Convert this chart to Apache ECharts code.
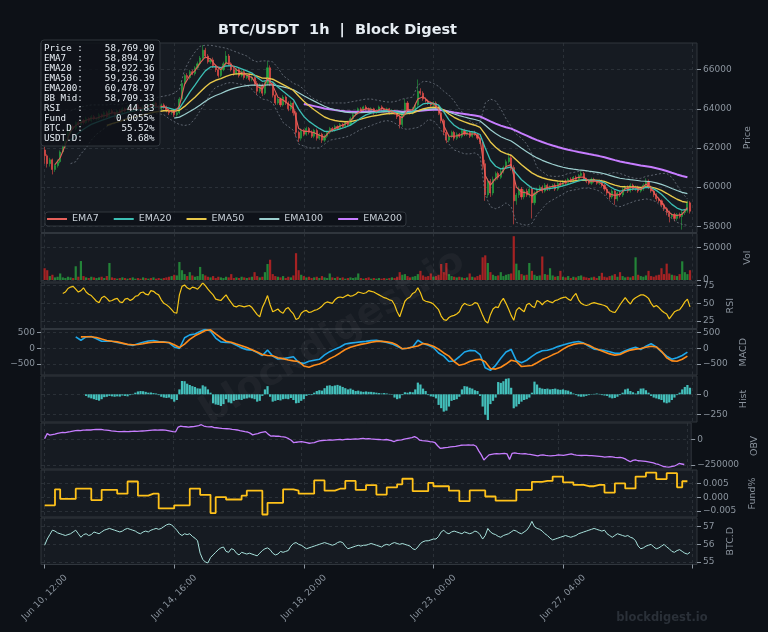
<!DOCTYPE html>
<html><head><meta charset="utf-8">
<script src="https://cdn.jsdelivr.net/npm/echarts@6/dist/echarts.min.js"></script>
<style>html,body{margin:0;padding:0;background:#0d1117;}#c{width:768px;height:632px;}</style>
</head><body><div id="c"></div>
<script>
// ---------------- DATA ----------------
// x axis: hours since Jun 10, 12:00 (2h candles)
const xTickHours = [0,100,200,300,400];
const xTickLabels = ['Jun 10, 12:00','Jun 14, 16:00','Jun 18, 20:00','Jun 23, 00:00','Jun 27, 04:00'];
const xGridHours = [0,100,200,300,400,500];

const priceTicks = [58000,60000,62000,64000,66000];
const volTicks = [0,50000];
const rsiTicks = [25,50,75];
const macdTicks = [-500,0,500];
const histTicks = [-250,0];
const obvTicks = [-250000,0];
const fundTicks = [-0.005,0,0.005];
const btcdTicks = [55,56,57];

const firstOpen = 61900;
// close every 2 hours
const close = [61600,61200,61400,60900,61100,61300,61800,62100,62400,62800,
63100,63000,63300,63200,63400,63300,63500,63400,63600,63500,
63500,63700,63600,63800,63600,63900,63800,63600,63900,63800,
64000,63900,64100,63900,64000,64200,64000,63900,64100,64000,
64200,64100,64300,64100,64000,64200,64100,63900,63800,63900,
63700,63800,64500,65300,65700,65600,65900,65800,66100,66300,
66600,67000,66700,66400,66500,66200,66000,65700,66000,66300,
66700,66300,66000,65800,66000,65700,65900,65600,65700,65500,
65600,65300,64900,65200,64800,65300,66100,65300,64700,64300,
64500,64200,64600,64300,64000,64300,63800,62800,62500,62900,
62700,63000,62800,62600,62900,62500,62700,62400,62600,62800,
63000,62900,63100,63000,63200,63100,63300,63200,63500,63700,
63800,64000,63900,64100,64000,63900,64000,63800,63900,64100,
64000,63900,64000,63800,63900,63800,63600,63200,63700,64300,
63900,63800,64000,64200,64900,64800,64500,64400,64300,64200,
64300,64100,63800,63400,62800,62400,62600,62800,62500,62700,
62600,62900,62700,62800,62600,62800,62700,62500,62300,61200,
59600,60300,59700,60400,60700,60500,60800,61000,61300,61500,
61000,59300,59600,59900,59500,59800,59600,59900,59200,59700,
59900,60000,59800,60100,59900,60000,60100,59900,60200,60100,
60300,60200,60400,60300,60500,60400,60600,60700,60400,60300,
60200,60400,60300,60200,60300,60100,59900,59700,59500,59800,
59400,59700,59600,59900,60000,59800,60100,59900,60000,59800,
59900,60100,60300,60000,59800,59600,59400,59300,59100,58900,
58700,58500,58600,58400,58600,58500,58700,58800,59200,58770];
// upper / lower wick length, in units of $10
const wickUp = [15,8,10,6,9,12,8,10,7,9, 8,10,7,9,6,8,10,7,9,8, 7,9,6,8,10,7,9,6,8,7, 9,7,8,6,10,7,9,8,6,9,
8,7,10,6,9,7,8,6,9,7, 8,10,10,15,8,12,9,10,8,12, 10,25,12,10,9,12,8,10,9,11, 25,10,8,12,9,10,8,9,7,10,
9,8,12,10,9,14,35,12,10,8, 9,7,10,8,9,12,8,10,9,10, 8,9,7,10,8,9,7,8,9,7, 8,7,9,6,8,7,9,8,10,8,
9,7,8,6,9,7,8,6,9,7, 8,6,7,5,8,6,7,9,10,20, 10,8,9,12,60,15,10,9,8,7, 9,8,7,10,9,12,10,9,8,10,
7,9,8,7,9,6,8,7,9,10, 20,15,12,14,10,9,12,10,11,25, 15,12,10,14,11,9,12,10,14,9, 8,10,9,11,8,9,7,10,8,9,
7,9,8,10,7,9,8,15,9,8, 7,9,8,7,9,8,7,9,8,10, 9,8,10,9,8,9,10,8,9,7, 8,10,15,9,8,7,9,8,7,9, 8,10,7,9,8,10,12,9,12,8];
const wickDn = [40,20,15,25,12,10,8,7,9,8, 10,8,9,7,8,10,7,9,8,7, 9,7,8,10,7,9,8,10,7,8, 7,9,6,8,7,9,8,6,9,7,
8,9,7,10,8,7,9,8,12,10, 12,10,8,9,12,10,9,8,10,9, 8,10,12,9,10,11,12,10,9,8, 10,12,9,11,8,10,9,11,8,10,
9,12,20,10,15,9,10,14,12,10, 9,11,8,10,12,9,15,20,20,12, 10,8,11,9,10,12,9,14,10,8, 9,8,7,9,8,7,9,8,7,9,
8,9,7,8,9,7,8,10,8,7, 9,8,7,9,8,9,12,20,12,9, 10,9,8,9,10,11,9,8,10,9, 8,10,12,14,15,15,10,9,12,9,
8,10,9,8,9,7,8,9,10,30, 30,15,20,12,10,12,9,10,8,9, 15,120,20,15,14,12,11,13,80,12, 10,9,11,8,10,9,8,10,9,8,
7,9,8,7,9,8,7,8,9,10, 8,9,7,8,9,10,11,12,14,10, 30,12,11,10,9,10,8,9,10,9, 8,9,8,10,9,11,12,10,13,12, 14,30,12,15,11,10,67,12,10,12];
const volume = [18000,15000,6000,8000,4000,5000,10000,4000,3000,5000, 4000,3000,21000,5000,29000,6000,4000,3000,5000,4000,
3000,4000,5000,3000,6000,26000,4000,3000,2000,3000, 4000,3000,2000,3000,4000,2000,3000,2000,4000,3000,
2000,3000,4000,2000,3000,2000,3000,4000,5000,6000, 8000,7000,27500,15000,9000,6000,12000,7000,5000,6000,
20000,9000,7000,5000,4000,6000,3000,5000,4000,3000, 5000,4000,9000,3000,4000,3000,5000,4000,3000,4000,
5000,12000,6000,4000,5000,12000,24500,31000,9000,6000, 5000,4000,6000,3000,5000,4000,7000,41000,15000,8000,
6000,4000,5000,3000,4000,5000,3000,6000,4000,3000, 10000,4000,3000,5000,3000,4000,2000,3000,4000,3000,
4000,10000,3000,2000,3000,4000,2000,3000,2000,3000, 2000,3000,2000,3000,4000,3000,5000,12000,8000,9000,
6000,4000,5000,6000,9000,14000,7000,5000,6000,10000, 5000,6000,8000,24500,12000,26000,9000,6000,5000,4000,
5000,4000,3000,4000,10000,5000,4000,6000,8000,34700, 37700,26000,12000,8000,6000,7000,12000,6000,8000,9000,
10000,67000,25000,15000,9000,7000,8000,26000,14000,8000, 6000,7000,36000,9000,8000,18000,7000,5000,6000,14000,
5000,4000,6000,3000,5000,4000,6000,7000,5000,4000, 3000,4000,5000,3000,6000,11000,5000,4000,6000,7000,
9000,5000,12000,6000,4000,5000,4000,6000,34700,8000, 6000,5000,7000,14000,6000,5000,7000,8000,18000,9000,
25000,10000,8000,7000,6000,9000,28600,12000,9000,15000];

// overlays every 4 hours
const ema7 = [null,null,61150,61500,62150,62850,63150,63300,63420,63520,
63520,63620,63680,63800,63780,63900,63990,64000,64060,64030,
64100,64200,64100,64130,63920,63800,64150,65250,65700,65950,
66350,66650,66550,66200,66000,66350,66250,66000,65850,65720,
65600,65150,65000,65550,65200,64600,64450,64250,64050,63000,
62850,62850,62780,62650,62550,62850,63000,63120,63230,63400,
63700,63900,64010,63980,63880,64020,63970,63870,63700,63550,
63950,63950,64500,64620,64380,64270,63980,63150,62600,62600,
62640,62760,62700,62730,62450,60600,60100,60450,60650,61050,
61150,60000,59750,59700,59550,59750,59880,59980,60040,60080,
60200,60300,60400,60500,60520,60300,60320,60270,60020,59650,
59580,59630,59920,59980,59980,59880,60150,59950,59550,59230,
58850,58600,58550,58620,58950];
const ema20 = [null,null,null,null,null,62400,62650,62865,63050,63205,
63310,63410,63500,63600,63660,63740,63820,63880,63940,63970,
64010,64075,64085,64100,64040,63960,64025,64430,64850,65210,
65590,65940,66140,66160,66110,66190,66210,66140,66045,65940,
65830,65605,65405,65450,65370,65115,64895,64680,64470,63985,
63610,63360,63170,63000,62850,62850,62900,62975,63060,63170,
63345,63530,63690,63785,63815,63885,63910,63900,63835,63740,
63810,63855,64070,64250,64295,64285,64185,63845,63435,63160,
62990,62915,62845,62805,62690,62000,61375,61070,60930,60970,
61030,60690,60380,60155,59955,59890,59885,59915,59955,60000,
60065,60145,60230,60320,60385,60355,60345,60320,60220,60030,
59880,59800,59840,59885,59915,59905,59985,59975,59835,59635,
59375,59120,58930,58830,58870];
const ema50 = [null,null,null,null,null,null,null,null,null,null,null,null,
63150,63246,63325,63410,63496,63570,63642,63700,
63760,63825,63865,63905,63907,63890,63930,64125,64360,64595,
64855,65120,65330,65460,65540,65660,65748,65785,65795,65785,
65758,65668,65570,65567,65513,65378,65240,65093,64940,64653,
64386,64160,63955,63762,63583,63475,63405,63363,63343,63350,
63402,63476,63555,63618,63657,63710,63748,63766,63756,63726,
63759,63787,63893,64001,64057,64089,64073,63936,63738,63570,
63432,63333,63239,63164,63058,62694,62310,62035,61830,61715,
61631,61390,61147,60933,60728,60583,60479,60405,60351,60311,
60295,60295,60311,60339,60366,60356,60351,60339,60292,60197,
60106,60036,60019,60013,60008,59989,60013,60004,59937,59832,
59687,59526,59382,59269,59222];
const ema100 = [null,null,null,null,null,null,null,null,null,null,null,null,null,null,null,null,null,null,null,null,null,null,null,null,null,
63530,63578,63707,63860,64021,
64200,64389,64555,64682,64783,64904,65008,65084,65143,65187,
65219,65214,65198,65225,65223,65175,65119,65052,64975,64823,
64671,64531,64396,64262,64130,64031,63952,63888,63837,63803,
63795,63803,63819,63831,63835,63849,63858,63859,63847,63824,
63834,63843,63894,63950,63983,64005,64003,63937,63834,63739,
63654,63585,63517,63456,63379,63165,62929,62738,62577,62459,
62358,62176,61989,61813,61639,61494,61370,61263,61169,61085,
61017,60962,60919,60887,60859,60816,60778,60739,60684,60604,
60525,60456,60415,60382,60351,60315,60302,60275,60219,60143,
60043,59932,59826,59733,59673];
const ema200 = [null,null,null,null,null,null,null,null,null,null,null,null,null,null,null,null,null,null,null,null,null,null,null,null,null,
null,null,null,null,null,null,null,null,null,null,null,null,null,null,null,null,null,null,null,null,null,null,null,null,null,
64250,64195,64140,64082,64022,63976,63938,63906,63880,63861,
63855,63857,63863,63868,63868,63874,63878,63878,63871,63858,
63862,63865,63890,63918,63936,63949,63950,63919,63868,63819,
63773,63733,63693,63655,63608,63491,63359,63246,63145,63063,
62988,62871,62749,62630,62510,62402,62304,62213,62128,62048,
61976,61911,61852,61799,61749,61693,61639,61586,61525,61452,
61379,61311,61257,61207,61159,61109,61072,61028,60970,60902,
60822,60735,60650,60571,60508];
const bbUpper = [null,null,null,null,null,63900,64000,64100,64150,64200,
64200,64200,64200,64250,64200,64250,64300,64350,64400,64450,
64500,64550,64600,64650,64700,64800,65000,66000,66500,66900,
67200,67250,67250,67200,67150,67100,67000,66900,66800,66700,
66500,66400,66450,66450,66400,66100,65700,65500,65300,65200,
65000,64700,64500,64400,64300,64300,64300,64300,64300,64350,
64400,64450,64500,64500,64450,64400,64350,64350,64400,64500,
64550,64600,65200,65400,65400,65300,65150,64900,64700,64400,
64000,63700,63400,63200,63300,64300,64500,64400,64000,63500,
63100,62700,62500,62200,61700,61000,60800,60600,60550,60550,
60600,60700,60750,60800,60850,60800,60700,60650,60650,60700,
60750,60700,60600,60500,60450,60450,60550,60600,60650,60700,
60700,60500,60100,59700,59400];
const bbLower = [null,null,null,null,null,61200,61300,61700,62000,62400,
62700,62900,63100,63200,63300,63400,63500,63600,63650,63700,
63750,63750,63750,63700,63500,63350,63200,63150,63200,63500,
63900,64300,64800,65100,65200,65300,65350,65300,65250,65200,
65000,64700,64500,64450,64300,63800,63300,63100,62900,62200,
62100,62000,62000,62000,62200,62400,62450,62500,62550,62650,
62800,62950,63050,63150,63250,63350,63400,63350,63200,63000,
62950,63000,63050,63200,63450,63400,63100,62700,62200,61900,
61800,61700,61700,61750,61600,59600,59000,58900,59000,59200,
59000,58200,58100,58050,58150,58600,58900,59200,59350,59500,
59650,59800,59850,59900,59950,59950,59900,59800,59600,59300,
59050,59000,59100,59200,59300,59350,59400,59350,59250,59000,
58700,58400,58200,58100,58050];

// RSI every 2 hours
const rsi = [null,null,null,null,null,null,null,64,66,71,
73,74,70,66,68,72,66,63,61,57, 53,51,58,60,57,53,54,56,57,52, 51,56,57,54,56,60,61,65,66,63,
62,68,67,64,62,55,50,48,45,41, 37,36,62,74,76,72,70,73,72,70, 74,79,75,70,66,62,56,55,54,58,
62,56,51,46,45,47,46,45,46,47, 44,39,34,31,44,52,61,48,38,40, 42,38,36,42,44,39,35,27,29,36,
39,40,37,38,40,41,43,46,50,52, 51,50,55,58,59,58,60,62,60,61, 63,66,65,64,65,68,67,66,64,62,
60,58,57,55,54,48,38,31,42,53, 57,59,64,66,72,65,55,53,52,51, 49,45,41,32,27,26,30,32,33,35,
38,46,50,48,47,48,51,50,42,33, 25,22,34,42,45,44,52,57,50,42, 33,26,40,44,41,38,48,50,46,44,
54,52,48,52,54,52,51,54,55,57, 58,59,56,54,60,64,55,50,48,47, 48,50,51,50,49,48,47,45,40,38,
37,42,48,53,58,53,49,55,58,60, 62,62,60,57,50,45,47,44,40,37, 35,28,33,38,40,41,46,52,56,45];
// MACD & signal every 4 hours
const macd = [null,null,null,null,null,null,356,250,356,370,
300,220,220,220,180,147,115,84,140,189, 225,241,210,200,170,40,-10,330,420,450,
530,600,540,320,200,180,170,90,10,-45, -60,-140,-230,-60,-250,-340,-330,-300,-270,-450,
-480,-410,-380,-350,-210,-110,-30,40,130,160, 180,200,215,240,250,215,180,137,60,-20,
0,40,250,150,90,20,-150,-250,-420,-400, -270,-120,-70,-80,-200,-620,-700,-540,-320,-120,
-40,-390,-461,-380,-260,-150,-80,-65,-20,50, 100,150,190,210,160,60,-30,-50,-70,-110,
-160,-160,-80,-20,30,-40,60,140,40,-120, -250,-350,-300,-230,-126];
const signal = [null,null,null,null,null,null,null,356,360,360,
340,290,245,220,200,160,120,110,115,140, 175,190,195,190,180,110,20,130,280,390,
470,560,580,450,330,220,190,130,80,20, -50,-120,-200,-230,-240,-300,-330,-370,-400,-420,
-560,-600,-540,-500,-430,-330,-250,-150,-40,30, 80,120,150,190,215,220,200,170,100,-20,
0,40,70,150,120,60,-30,-150,-250,-420, -540,-500,-420,-370,-350,-430,-640,-660,-600,-500,
-380,-420,-580,-560,-545,-460,-360,-290,-210,-140, -30,60,120,150,150,90,10,-60,-120,-180,
-220,-200,-120,-60,-30,-10,30,60,40,-100, -300,-400,-410,-350,-250];
// MACD histogram every 2 hours
const hist = [null,null,null,null,null,null,null,null,null,null,null,null,null,null,null,null,
-20,-40,-50,-60, -70,-78,-60,-35,-30,-20,-25,-30,-25,-28, -15,-20,-25,-10,5,20,35,40,38,30,
20,22,15,10,-10,-30,-40,-45,-40,-60, -90,-70,60,163,160,130,114,100,90,73, 70,110,95,60,20,-110,-125,-130,-143,-120,
-60,-100,-110,-80,-70,-65,-70,-55,-50,-40, -50,-60,-90,-80,-20,60,100,-30,-90,-80, -70,-75,-60,-55,-60,-45,-70,-110,-105,-80,
-60,-20,-8,-10,20,40,50,45,75,105, 110,100,108,115,105,90,75,60,70,55, 40,45,35,30,35,30,30,25,20,15,
10,15,10,5,-5,-40,-60,-50,-10,25, 20,30,25,60,143,120,70,40,-10,-25, -30,-50,-130,-170,-212,-200,-150,-80,-70,-60,
-30,60,100,95,80,70,50,40,-20,-150, -250,-314,-120,-80,-40,150,140,160,190,196, 80,-171,-150,-120,-90,-70,-60,-40,20,155,
120,80,70,65,70,60,65,70,60,55, 60,50,45,30,10,-10,-25,-30,-28,-20, -10,-5,5,10,5,-10,-15,-20,-40,-50,
-45,-30,-10,20,60,70,40,25,10,40, 70,72,50,20,-20,-40,-50,-60,-70,-100, -110,-100,-70,-40,-10,20,60,90,114,80];
// OBV every 2 hours
const obv = [10000,60000,45000,50000,55000,62000,68000,72000,70000,76000,
80000,85000,90000,92000,90000,95000,96000,98000,96000,100000, 102000,101000,103000,98000,95000,92000,88000,85000,82000,80000,
79000,82000,80000,81000,83000,85000,82000,84000,86000,88000, 90000,92000,94000,96000,95000,97000,96000,94000,90000,85000,
80000,78000,125000,135000,130000,128000,125000,128000,130000,135000, 140000,148000,135000,130000,126000,128000,120000,118000,115000,112000,
110000,108000,106000,102000,100000,96000,90000,85000,80000,76000, 65000,48000,55000,60000,70000,75000,80000,55000,36000,38000,
34000,36000,30000,28000,22000,10000,-5000,-30000,-25000,-22000, -20000,-25000,-30000,-35000,-32000,-28000,-18000,-12000,-8000,-6000,
-5000,-3000,-4000,-2000,0,2000,-1000,3000,5000,4000, 6000,8000,5000,10000,12000,9000,11000,8000,6000,3000,
2000,0,-1000,2000,-3000,-10000,-18000,-8000,-5000,-2000, 5000,10000,15000,20000,30000,18000,-5000,-10000,-12000,-15000,
-20000,-22000,-30000,-60000,-85000,-82000,-78000,-75000,-70000,-68000, -66000,-60000,-55000,-53000,-54000,-52000,-53000,-52000,-65000,-110000,
-150000,-200000,-175000,-150000,-145000,-140000,-138000,-140000,-138000,-136000, -140000,-195000,-135000,-130000,-135000,-138000,-140000,-138000,-142000,-145000,
-150000,-155000,-160000,-152000,-150000,-155000,-158000,-160000,-157000,-155000, -150000,-152000,-155000,-150000,-145000,-140000,-148000,-152000,-155000,-156000,
-154000,-155000,-157000,-158000,-160000,-162000,-165000,-168000,-172000,-170000, -168000,-170000,-175000,-178000,-175000,-180000,-190000,-205000,-218000,-205000,
-200000,-208000,-210000,-212000,-215000,-220000,-225000,-230000,-238000,-245000, -255000,-265000,-268000,-270000,-265000,-262000,-250000,-235000,-240000,-245000];
// funding rate (%) every 4 hours
const fund = [-0.0029,-0.0029,0.0029,-0.0006,-0.0006,-0.0006,0.0031,0.0031,0.0031,-0.001,
-0.001,0.0027,0.0027,0.0027,0.0013,0.0013,0.0057,0.0057,0.0006,0.0006, 0.0013,0.0013,-0.004,-0.004,-0.004,-0.0029,-0.0029,-0.0029,0.0031,0.0031,
0.0009,0.0009,-0.0057,0.0001,0.0001,-0.0008,-0.0008,-0.0008,0.0006,0.0024, 0.0024,0.0024,-0.0062,-0.002,-0.002,-0.002,0.0029,0.0029,0.0024,0.0013,
0.0013,0.0013,0.0061,0.0061,0.0024,0.0024,0.0031,0.0031,0.0059,0.0059, 0.0027,0.0027,0.0044,0.0044,0.001,0.001,0.0036,0.0036,0.0047,0.0067,
0.0067,0.0022,0.0022,0.0022,0.0052,0.004,0.004,0.004,0.0024,0.0024, -0.0014,-0.0014,0.0025,0.0025,0.0025,0.0003,0.0003,-0.0012,-0.0012,-0.0012,
-0.0012,0.0027,0.0027,0.0027,0.0056,0.0056,0.0059,0.0059,0.0075,0.0075, 0.0054,0.0054,0.0045,0.0045,0.004,0.004,0.0045,0.0045,0.0017,0.0017,
0.005,0.005,0.0032,0.0032,0.0075,0.0075,0.0089,0.0089,0.0066,0.0066, 0.0087,0.0087,0.0036,0.0058,0.0058];
// BTC dominance every 2 hours
const btcd = [55.95,56.3,56.55,56.8,56.75,56.65,56.6,56.55,56.5,56.55,
56.6,56.7,56.8,56.6,56.4,56.55,56.6,56.5,56.55,56.7, 56.65,56.6,56.7,56.8,56.85,56.9,56.85,56.8,56.75,56.7,
56.75,56.85,56.9,56.85,56.8,56.75,56.65,56.6,56.7,56.75, 56.7,56.8,56.85,56.9,56.85,56.9,57.0,57.1,57.15,57.1,
56.95,56.8,56.6,56.5,56.6,56.55,56.6,56.45,56.35,56.2, 55.5,55.15,55.0,54.95,55.25,55.4,55.55,55.7,55.8,55.85,
55.6,55.55,55.75,55.7,55.5,55.4,55.55,55.5,55.45,55.5, 55.45,55.4,55.35,55.5,55.65,55.75,55.8,55.7,55.5,55.4,
55.45,55.6,55.55,55.6,55.65,55.9,56.05,56.1,56.0,55.95, 55.85,55.75,55.8,55.85,55.9,55.95,56.0,56.05,56.1,56.05,
56.0,55.95,56.0,56.1,56.15,56.1,55.9,55.75,55.8,55.85, 55.9,55.95,55.9,55.95,55.95,56.0,56.05,56.0,55.95,55.9,
55.85,55.95,56.0,55.95,56.05,56.1,56.05,56.0,56.05,56.0, 55.95,55.9,55.75,55.7,55.85,56.05,56.15,56.2,56.2,56.25,
56.3,56.3,56.45,56.7,56.8,56.65,56.6,56.7,56.75,56.7, 56.65,56.6,56.7,56.65,56.6,56.65,56.75,56.7,56.55,56.3,
56.5,56.9,56.7,56.6,56.55,56.45,56.4,56.5,56.55,56.6, 56.7,56.8,56.75,56.65,56.6,56.7,56.8,57.0,57.3,57.0,
56.9,56.85,56.75,56.6,56.5,56.35,56.25,56.3,56.35,56.4, 56.45,56.5,56.45,56.4,56.45,56.5,56.6,56.65,56.7,56.75,
56.8,56.85,56.9,56.85,56.8,56.75,56.8,56.6,56.5,56.4, 56.5,56.6,56.55,56.5,56.45,56.5,56.4,56.35,56.2,55.9,
55.75,55.8,55.9,55.95,56.0,55.85,55.75,55.8,55.9,56.0, 55.85,55.75,55.6,55.55,55.65,55.7,55.6,55.5,55.45,55.55];

const infoLabels = ['Price','EMA7','EMA20','EMA50','EMA200','BB Mid','RSI','Fund','BTC.D','USDT.D'];
const infoValues = ['58,769.90','58,894.97','58,922.36','59,236.39','60,478.97','58,709.33','44.83','0.0055%','55.52%','8.68%'];

// ---------------- CHART ----------------
const FONT = 'DejaVu Sans';
const TXT = '#8b949e';
const GRIDC = '#30363d';
const UP = '#26a641', DOWN = '#ef4f4a';
const minus = s => String(s).replace('-', '\u2212');

const layout = [
  {top:43, h:189.5}, {top:233.5, h:48.5}, {top:283, h:45.5}, {top:329.5, h:45.5},
  {top:376, h:46}, {top:423, h:46}, {top:470, h:47}, {top:518, h:46.5}
];
const yspec = [
  {name:'Price', min:57683, max:67364, ticks:priceTicks, gap:36},
  {name:'Vol', min:-3060, max:71100, ticks:volTicks, gap:34},
  {name:'RSI', min:14.4, max:78.8, ticks:rsiTicks, gap:19},
  {name:'MACD', min:-846, max:590, ticks:macdTicks, gap:31},
  {name:'Hist', min:-339, max:224, ticks:histTicks, gap:31},
  {name:'OBV', min:-289500, max:165000, ticks:obvTicks, gap:53},
  {name:'Fund%', min:-0.00711, max:0.00986, ticks:fundTicks, gap:44, fmt:v=>minus(Number(v).toFixed(3))},
  {name:'BTC.D', min:54.86, max:57.49, ticks:btcdTicks, gap:19}
];

const split = {show:true, lineStyle:{color:GRIDC, type:[3,3], width:0.8}};
const grids = layout.map(p=>({left:41, right:71, top:p.top, height:p.h, show:true,
  backgroundColor:'#161b22', borderColor:GRIDC, borderWidth:1}));
const xAxes = layout.map((p,gi)=>{
  const last = gi === layout.length-1;
  return {type:'value', gridIndex:gi, min:-2.8, max:503.4,
    axisLine:{show:false, onZero:false},
    axisTick:{show:last, length:4, lineStyle:{color:TXT}, customValues:xGridHours},
    axisLabel:{show:last, customValues:xTickHours, rotate:45, align:'center', verticalAlign:'middle', margin:33,
      color:TXT, fontSize:9, fontFamily:FONT, formatter:v=>xTickLabels[xTickHours.indexOf(v)]},
    splitLine:split};
});
const yAxes = yspec.map((s,gi)=>({type:'value', gridIndex:gi, position:'right', min:s.min, max:s.max,
  name:s.name, nameLocation:'middle', nameGap:s.gap,
  nameTextStyle:{color:TXT, fontSize:9.5, fontFamily:FONT},
  axisLine:{show:false, onZero:false},
  axisTick:{show:true, length:4, lineStyle:{color:TXT}, customValues:s.ticks},
  axisLabel:{color:TXT, fontSize:9, fontFamily:FONT, margin:6, customValues:s.ticks, formatter:s.fmt || (v=>minus(v))},
  splitLine:split}));
// left-hand MACD labels
yAxes.push({type:'value', gridIndex:3, position:'left', min:yspec[3].min, max:yspec[3].max,
  axisLine:{show:false, onZero:false}, splitLine:{show:false},
  axisTick:{show:true, length:4, lineStyle:{color:TXT}, customValues:macdTicks},
  axisLabel:{color:TXT, fontSize:9, fontFamily:FONT, margin:6, customValues:macdTicks, formatter:v=>minus(v)}});

const pairs = (arr, step) => arr.map((v,k)=>[k*step, v]).filter(p=>p[1]!==null);
const opens = close.map((c,i)=> i===0 ? firstOpen : close[i-1]);
const candleData = close.map((c,i)=>{const o = opens[i];
  return [i*2, o, c, Math.min(o,c) - wickDn[i]*10, Math.max(o,c) + wickUp[i]*10];});
const volData = volume.map((v,i)=>({value:[i*2, v], itemStyle:{color: close[i] >= opens[i] ? 'rgba(38,150,60,0.85)' : 'rgba(190,35,35,0.85)'}}));

const line = (name, data, color, width, gi, extra) => Object.assign({
  name, type:'line', xAxisIndex:gi, yAxisIndex:gi, data, showSymbol:false, symbol:'none',
  lineStyle:{color, width}, itemStyle:{color}, emphasis:{disabled:true}, silent:true
}, extra||{});

const series = [
  {type:'candlestick', xAxisIndex:0, yAxisIndex:0, data:candleData, barWidth:1.6, silent:true,
    itemStyle:{color:UP, color0:DOWN, borderColor:UP, borderColor0:DOWN, borderWidth:0.6}},
  line('BBU', pairs(bbUpper,4), '#6e7681', 0.8, 0, {lineStyle:{color:'#6e7681', width:0.8, type:[2,2]}}),
  line('BBL', pairs(bbLower,4), '#6e7681', 0.8, 0, {lineStyle:{color:'#6e7681', width:0.8, type:[2,2]}}),
  line('EMA200', pairs(ema200,4), '#c77dff', 2, 0),
  line('EMA100', pairs(ema100,4), '#9ccfcf', 1.2, 0),
  line('EMA50', pairs(ema50,4), '#e8c84a', 1.4, 0),
  line('EMA20', pairs(ema20,4), '#3cbfb4', 1.3, 0),
  line('EMA7', pairs(ema7,4), '#e5605a', 1.1, 0),
  {type:'bar', xAxisIndex:1, yAxisIndex:1, data:volData, barWidth:2.2, silent:true},
  line('RSI', pairs(rsi,2), '#f5c518', 1.2, 2),
  line('MACD', pairs(macd,4), '#1ea7ea', 1.6, 3),
  line('Signal', pairs(signal,4), '#ff8c1a', 1.6, 3),
  {type:'bar', xAxisIndex:4, yAxisIndex:4, data:pairs(hist,2), barWidth:2.2, silent:true,
    itemStyle:{color:'rgba(72,209,204,0.9)'}},
  line('OBV', pairs(obv,2), '#c77dff', 1.3, 5),
  line('Fund', pairs(fund,4), '#ffc21a', 1.8, 6, {step:'end'}),
  line('BTCD', pairs(btcd,2), '#a8e2dc', 1, 7)
];

const infoText = infoLabels.map((l,k)=> (l.padEnd(6) + ':') + infoValues[k].padStart(13)).join('\n');

const option = {
  backgroundColor:'#0d1117',
  animation:false,
  grid:grids, xAxis:xAxes, yAxis:yAxes, series,
  legend:{data:['EMA7','EMA20','EMA50','EMA100','EMA200'], left:45, top:212, itemWidth:20, itemHeight:2,
    itemGap:15, icon:'rect', padding:[2,4,2,2], backgroundColor:'rgba(13,17,23,0.85)', borderColor:GRIDC,
    borderWidth:1, borderRadius:3, textStyle:{color:'#c9d1d9', fontSize:9.5, fontFamily:FONT}, z:20, selectedMode:false},
  graphic:[
    {type:'text', x:337.5, y:30, z:100, style:{text:'BTC/USDT  1h  |  Block Digest', font:'bold 14.5px "DejaVu Sans"',
      fill:'#e6edf3', align:'center', verticalAlign:'middle', textAlign:'center', textVerticalAlign:'middle'}},
    {type:'text', x:333, y:337, rotation:0.55, z:60, silent:true, style:{text:'blockdigest.io', font:'bold 38px "DejaVu Sans"',
      fill:'rgba(255,255,255,0.04)', align:'center', verticalAlign:'middle', textAlign:'center', textVerticalAlign:'middle'}},
    {type:'text', x:662, y:618.5, z:60, style:{text:'blockdigest.io', font:'bold 11.5px "DejaVu Sans"',
      fill:'#2a3038', align:'center', verticalAlign:'middle', textAlign:'center', textVerticalAlign:'middle'}},
    {type:'rect', z:90, shape:{x:41, y:40, width:119, height:106, r:3},
      style:{fill:'rgba(13,17,23,0.82)', stroke:GRIDC, lineWidth:1}},
    {type:'text', x:44, y:43.5, z:91, style:{text:infoText, font:'9.2px "DejaVu Sans Mono"', fill:'#e6edf3',
      lineHeight:10, verticalAlign:'top', textVerticalAlign:'top'}}
  ]
};
const chart = echarts.init(document.getElementById('c'), null, {renderer:'canvas', width:768, height:632});
chart.setOption(option);
</script></body></html>
